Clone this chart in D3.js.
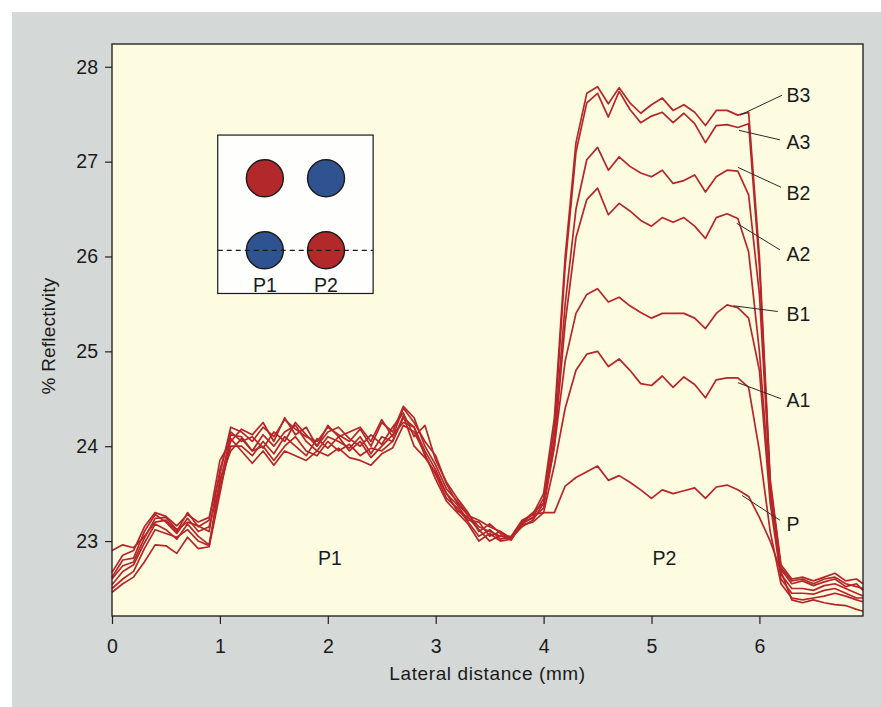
<!DOCTYPE html>
<html>
<head>
<meta charset="utf-8">
<script src="https://cdn.jsdelivr.net/npm/d3@7"></script>
<style>
  body { margin: 0; background: #ffffff; }
  svg { display: block; font-family: "Liberation Sans", Arial, sans-serif; }
</style>
</head>
<body>
<div id="graph"></div>
<script>
// lateral positions (mm), shared by every profile
const xVals = [0, 0.1, 0.2, 0.3, 0.4, 0.5, 0.6, 0.7, 0.8, 0.9, 1, 1.1, 1.2, 1.3, 1.4, 1.5, 1.6, 1.7, 1.8, 1.9,
  2, 2.1, 2.2, 2.3, 2.4, 2.5, 2.6, 2.7, 2.8, 2.9, 3, 3.1, 3.2, 3.3, 3.4, 3.5, 3.6, 3.7, 3.8, 3.9,
  4, 4.1, 4.2, 4.3, 4.4, 4.5, 4.6, 4.7, 4.8, 4.9, 5, 5.1, 5.2, 5.3, 5.4, 5.5, 5.6, 5.7, 5.8, 5.9,
  6, 6.1, 6.2, 6.3, 6.4, 6.5, 6.6, 6.7, 6.8, 6.9, 6.96];

// % reflectivity profiles
const seriesB3 = [22.67, 22.85, 22.9, 23.15, 23.3, 23.26, 23.16, 23.28, 23.2, 23.25, 23.7, 24.2,
  24.15, 24.05, 24.2, 24.1, 24.28, 24.18, 24.1, 24.05, 24.2, 24.12, 24.05, 24.18, 24.0, 24.25, 24.15, 24.42, 24.3, 24.0, 23.8,
  23.55, 23.42, 23.28, 23.15, 23.1, 23.05, 23.05, 23.22, 23.28, 23.5,
  24.3, 26.0, 27.2, 27.72, 27.79, 27.61, 27.78, 27.62, 27.51, 27.6,
  27.67, 27.54, 27.6, 27.52, 27.38, 27.54, 27.54, 27.49, 27.52, 26.0,
  23.65, 22.75, 22.6, 22.62, 22.58, 22.62, 22.66, 22.58, 22.6, 22.55];
const seriesA3 = [22.62, 22.8, 22.82, 23.1, 23.28, 23.2, 23.08, 23.24, 23.1, 23.15, 23.6, 24.12,
  24.1, 23.95, 24.12, 24.0, 24.15, 24.22, 24.05, 23.95, 24.1, 24.05, 23.98, 24.1, 23.92, 24.1, 24.05, 24.3, 24.2, 23.95, 23.75,
  23.5, 23.38, 23.22, 23.2, 23.05, 23.1, 23.02, 23.18, 23.25, 23.45,
  24.2, 25.9, 27.1, 27.62, 27.72, 27.47, 27.74, 27.55, 27.41, 27.48,
  27.52, 27.41, 27.51, 27.4, 27.2, 27.38, 27.39, 27.36, 27.4, 25.9,
  23.6, 22.72, 22.58, 22.6, 22.55, 22.6, 22.62, 22.55, 22.52, 22.5];
const seriesB2 = [22.6, 22.74, 22.78, 23.03, 23.24, 23.25, 23.12, 23.2, 23.16, 23.1, 23.75, 24.15,
  24.05, 24.1, 23.98, 24.15, 24.05, 24.25, 24.12, 24.0, 24.15, 24.2, 24.08, 24.0, 24.12, 24.02, 24.2, 24.35, 24.1, 24.22, 23.85,
  23.62, 23.45, 23.3, 23.1, 23.18, 23.08, 23.03, 23.2, 23.3, 23.4,
  24.1, 25.5, 26.5, 27.02, 27.15, 26.91, 27.05, 26.95, 26.88, 26.84,
  26.91, 26.77, 26.8, 26.86, 26.68, 26.84, 26.91, 26.9, 26.65, 25.6,
  23.6, 22.7, 22.55, 22.58, 22.53, 22.57, 22.6, 22.52, 22.55, 22.48];
const seriesA2 = [22.54, 22.68, 22.75, 22.98, 23.18, 23.12, 23.02, 23.18, 23.05, 22.96, 23.55, 24.0,
  24.0, 23.9, 24.05, 23.92, 24.1, 24.0, 23.9, 24.08, 23.98, 24.1, 23.95, 24.05, 23.88, 24.0, 24.12, 24.25, 24.2, 23.9, 23.7,
  23.45, 23.35, 23.2, 23.05, 23.12, 23.02, 23.04, 23.15, 23.22, 23.4,
  24.0, 25.3, 26.2, 26.6, 26.72, 26.44, 26.56, 26.48, 26.38, 26.32,
  26.41, 26.36, 26.41, 26.32, 26.19, 26.41, 26.45, 26.4, 26.05, 25.0,
  23.5, 22.65, 22.5, 22.5, 22.48, 22.53, 22.55, 22.5, 22.45, 22.42];
const seriesB1 = [22.5, 22.6, 22.68, 22.92, 23.12, 23.08, 23.04, 23.12, 23.0, 22.95, 23.65, 23.95,
  24.08, 23.95, 24.0, 23.85, 24.0, 24.1, 23.95, 23.9, 24.05, 23.95, 24.02, 23.9, 23.98, 23.95, 24.05, 24.32, 24.0, 23.88, 23.72,
  23.5, 23.32, 23.25, 23.12, 23.0, 23.06, 23.01, 23.2, 23.24, 23.35,
  24.0, 24.9, 25.4, 25.6, 25.66, 25.52, 25.57, 25.48, 25.41, 25.35,
  25.4, 25.4, 25.4, 25.35, 25.24, 25.4, 25.49, 25.46, 25.35, 24.8,
  23.4, 22.6, 22.45, 22.45, 22.44, 22.48, 22.5, 22.45, 22.4, 22.4];
const seriesA1 = [22.46, 22.55, 22.62, 22.78, 22.96, 22.95, 22.87, 23.04, 22.92, 22.94, 23.5, 24.08,
  23.95, 23.82, 23.95, 23.8, 23.95, 23.9, 23.85, 23.95, 23.9, 23.98, 23.88, 23.85, 23.8, 23.92, 23.98, 24.22, 24.15, 23.92, 23.65,
  23.42, 23.3, 23.18, 23.0, 23.08, 23.0, 23.02, 23.17, 23.2, 23.3,
  23.8, 24.4, 24.8, 24.97, 25.0, 24.84, 24.92, 24.8, 24.66, 24.64,
  24.74, 24.62, 24.73, 24.65, 24.51, 24.7, 24.72, 24.72, 24.62, 23.95,
  23.1, 22.55, 22.4, 22.38, 22.4, 22.42, 22.45, 22.42, 22.38, 22.36];
const seriesP = [22.9, 22.96, 22.93, 23.05, 23.2, 23.22, 23.1, 23.3, 23.15, 23.22, 23.85, 24.05,
  24.18, 24.12, 24.25, 24.05, 24.3, 24.12, 24.2, 24.0, 24.22, 24.1, 24.15, 24.2, 24.05, 24.28, 24.1, 24.4, 24.25, 24.05, 23.9,
  23.6, 23.4, 23.27, 23.22, 23.15, 23.1, 23.03, 23.2, 23.28, 23.3,
  23.3, 23.58, 23.67, 23.73, 23.79, 23.64, 23.69, 23.62, 23.54, 23.45,
  23.54, 23.5, 23.53, 23.56, 23.45, 23.57, 23.59, 23.54, 23.47, 23.25,
  23.0, 22.68, 22.38, 22.35, 22.38, 22.35, 22.33, 22.32, 22.28, 22.26];

const xTicks = [0, 1, 2, 3, 4, 5, 6];
const yTicks = [23, 24, 25, 26, 27, 28];

// curve labels: name, point on the curve, end of leader, text position
const labelNames = ["B3", "A3", "B2", "A2", "B1", "A1", "P"];
const labelFromX = [5.82, 5.81, 5.80, 5.79, 5.76, 5.80, 5.84];
const labelFromY = [27.49, 27.33, 26.94, 26.35, 25.48, 24.67, 23.48];
const labelToX = [6.21, 6.19, 6.20, 6.19, 6.17, 6.20, 6.19];
const labelToY = [27.70, 27.23, 26.73, 26.07, 25.42, 24.50, 23.22];
const labelTextY = [27.70, 27.21, 26.67, 26.03, 25.39, 24.49, 23.18];

// region names inside the plot
const regionNames = ["P1", "P2"];
const regionX = [2.02, 5.12];

// inset: spot colours of the two rows
const insetCols = ["P1", "P2"];
const insetTopRow = ["red", "blue"];
const insetBottomRow = ["blue", "red"];

const COLOR_LINE = "#b62629";
const spotColor = { red: "#b3282a", blue: "#2f5391" };

var width = 881, height = 707;
var margin = { top: 44, right: 18, bottom: 91, left: 112 };

const svg = d3.select("#graph")
  .append("svg")
  .attr("width", width)
  .attr("height", height);

// grey page behind the figure
svg.append("rect")
  .attr("x", 12).attr("y", 12)
  .attr("width", width - 12).attr("height", height - 12)
  .attr("fill", "#d4d8d7");

var x = d3.scaleLinear().domain([0, 6.96]).range([margin.left, width - margin.right]);
var y = d3.scaleLinear().domain([22.21, 28.24]).range([height - margin.bottom, margin.top]);

svg.append("rect")
  .attr("x", x(0)).attr("y", y(28.24))
  .attr("width", x(6.96) - x(0)).attr("height", y(22.21) - y(28.24))
  .attr("fill", "#fdfbe0");

// axes
const xAxis = svg.append("g")
  .attr("transform", `translate(0,${height - margin.bottom})`)
  .call(d3.axisBottom(x).tickValues(xTicks).tickFormat(d3.format("d")).tickSize(8).tickPadding(15).tickSizeOuter(0));
const yAxis = svg.append("g")
  .attr("transform", `translate(${margin.left},0)`)
  .call(d3.axisLeft(y).tickValues(yTicks).tickFormat(d3.format("d")).tickSize(7).tickPadding(7).tickSizeOuter(0));

[xAxis, yAxis].forEach(a => {
  a.select(".domain").remove();
  a.selectAll("line").attr("stroke", "#222").attr("stroke-width", 1.2);
  a.selectAll("text").attr("fill", "#1a1a1a").style("font-size", "19.5px");
});

svg.append("text")
  .attr("x", (x(0) + x(6.96)) / 2)
  .attr("y", 680)
  .attr("text-anchor", "middle")
  .style("font-size", "19px")
  .style("letter-spacing", "0.6px")
  .attr("fill", "#1a1a1a")
  .text("Lateral distance (mm)");

svg.append("text")
  .attr("transform", "translate(55,336) rotate(-90)")
  .attr("text-anchor", "middle")
  .style("font-size", "19px")
  .style("letter-spacing", "0.2px")
  .attr("fill", "#1a1a1a")
  .text("% Reflectivity");

// profiles
const allSeries = [seriesP, seriesA1, seriesB1, seriesA2, seriesB2, seriesA3, seriesB3];
const line = d3.line()
  .x((d, i) => x(xVals[i]))
  .y(d => y(d));

svg.append("g")
  .selectAll("path")
  .data(allSeries)
  .join("path")
  .attr("d", line)
  .attr("fill", "none")
  .attr("stroke", COLOR_LINE)
  .attr("stroke-width", 1.7)
  .attr("stroke-linejoin", "round");

// leaders and labels
const lab = svg.append("g");
lab.selectAll("line")
  .data(labelNames)
  .join("line")
  .attr("x1", (d, i) => x(labelFromX[i]))
  .attr("y1", (d, i) => y(labelFromY[i]))
  .attr("x2", (d, i) => x(labelToX[i]))
  .attr("y2", (d, i) => y(labelToY[i]))
  .attr("stroke", "#2a2a2a")
  .attr("stroke-width", 1);
lab.selectAll("text")
  .data(labelNames)
  .join("text")
  .attr("x", x(6.25))
  .attr("y", (d, i) => y(labelTextY[i]))
  .attr("dy", "0.36em")
  .style("font-size", "19.5px")
  .attr("fill", "#1a1a1a")
  .text(d => d);

svg.append("g")
  .selectAll("text")
  .data(regionNames)
  .join("text")
  .attr("x", (d, i) => x(regionX[i]))
  .attr("y", y(22.75))
  .attr("text-anchor", "middle")
  .style("font-size", "19.5px")
  .attr("fill", "#1a1a1a")
  .text(d => d);

// inset sketch of the spots
const box = { x0: x(0.98), x1: x(2.42), y0: y(27.28), y1: y(25.61) };
const inset = svg.append("g");
inset.append("rect")
  .attr("x", box.x0).attr("y", box.y0)
  .attr("width", box.x1 - box.x0).attr("height", box.y1 - box.y0)
  .attr("fill", "#fefefc")
  .attr("stroke", "#1a1a1a")
  .attr("stroke-width", 1.2);

var ix = d3.scalePoint().domain(insetCols).range([box.x0, box.x1]).padding(0.77);
var iy = d3.scalePoint().domain(["top", "bottom"]).range([box.y0, box.y1]).padding(0.6);

inset.selectAll("circle.top")
  .data(insetTopRow)
  .join("circle")
  .attr("class", "top")
  .attr("cx", (d, i) => ix(insetCols[i]))
  .attr("cy", iy("top"))
  .attr("r", 18.5)
  .attr("fill", d => spotColor[d])
  .attr("stroke", "#1a1a1a")
  .attr("stroke-width", 1.4);

inset.selectAll("circle.bottom")
  .data(insetBottomRow)
  .join("circle")
  .attr("class", "bottom")
  .attr("cx", (d, i) => ix(insetCols[i]))
  .attr("cy", iy("bottom"))
  .attr("r", 18.5)
  .attr("fill", d => spotColor[d])
  .attr("stroke", "#1a1a1a")
  .attr("stroke-width", 1.4);

inset.append("line")
  .attr("x1", box.x0).attr("x2", box.x1)
  .attr("y1", iy("bottom")).attr("y2", iy("bottom"))
  .attr("stroke", "#1a1a1a")
  .attr("stroke-width", 1.3)
  .attr("stroke-dasharray", "5,4");

inset.selectAll("text")
  .data(insetCols)
  .join("text")
  .attr("x", d => ix(d))
  .attr("y", iy("bottom") + 42)
  .attr("text-anchor", "middle")
  .style("font-size", "19.5px")
  .attr("fill", "#1a1a1a")
  .text(d => d);

// frame drawn last so it sits on top
svg.append("rect")
  .attr("x", x(0)).attr("y", y(28.24))
  .attr("width", x(6.96) - x(0)).attr("height", y(22.21) - y(28.24))
  .attr("fill", "none")
  .attr("stroke", "#1a1a1a")
  .attr("stroke-width", 1.3);
</script>
</body>
</html>
